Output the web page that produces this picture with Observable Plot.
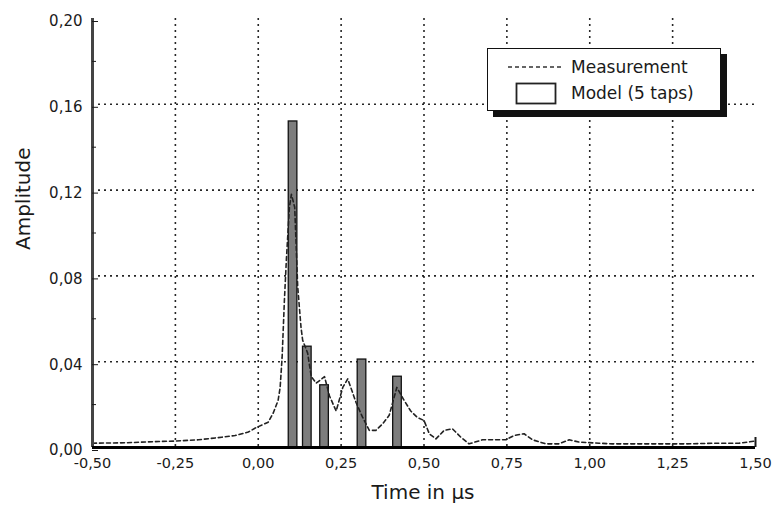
<!DOCTYPE html>
<html>
<head>
<meta charset="utf-8">
<script src="https://cdn.jsdelivr.net/npm/d3@7"></script>
<script src="https://cdn.jsdelivr.net/npm/@observablehq/plot@0.6"></script>
<style>
  html, body { margin: 0; padding: 0; background: #fff; }
  #wrap { position: relative; width: 772px; height: 513px; font-family: "DejaVu Sans", sans-serif; }
  #legend { position: absolute; left: 487px; top: 48px; width: 232px; height: 61px;
            border: 1.5px solid #111; background: #fff; box-shadow: 6px 6px 0 #111; }
</style>
</head>
<body>
<div id="wrap"></div>
<script>
// Measurement (dashed curve)
const measTime = [-0.50,-0.40,-0.30,-0.25,-0.18,-0.11,-0.07,-0.03,-0.01,0.03,0.045,0.06,0.066,0.072,0.079,0.085,0.094,0.100,0.110,0.119,0.129,0.134,0.149,0.160,0.175,0.200,0.215,0.235,0.255,0.270,0.295,0.315,0.335,0.355,0.375,0.395,0.418,0.440,0.460,0.480,0.500,0.516,0.536,0.561,0.586,0.611,0.636,0.677,0.717,0.747,0.772,0.802,0.827,0.867,0.907,0.938,0.968,1.028,1.068,1.128,1.209,1.289,1.380,1.450,1.500];
const measAmp  = [0.0020,0.0022,0.0028,0.0030,0.0036,0.0048,0.0056,0.0072,0.0090,0.0118,0.016,0.022,0.028,0.042,0.069,0.088,0.112,0.118,0.112,0.075,0.056,0.050,0.044,0.033,0.030,0.033,0.024,0.017,0.028,0.032,0.021,0.014,0.008,0.008,0.011,0.015,0.028,0.022,0.017,0.014,0.0126,0.0064,0.0040,0.0080,0.0087,0.0048,0.0017,0.0036,0.0036,0.0036,0.0056,0.0064,0.0036,0.0017,0.0017,0.0036,0.0025,0.0020,0.0017,0.0017,0.0017,0.0017,0.0020,0.0020,0.0030];
// Model (5 taps)
const tapTime = [0.105, 0.148, 0.200, 0.313, 0.420];
const tapAmp  = [0.152, 0.047, 0.029, 0.041, 0.033];
// Axes
const xDomain = [-0.5, 1.5];
const yDomain = [0, 0.2];
const xTicks = [-0.5,-0.25,0,0.25,0.5,0.75,1.0,1.25,1.5];
const yTicks = [0,0.04,0.08,0.12,0.16,0.20];
const yMinor = [0.02,0.06,0.10,0.14,0.18];
const xGrid = [-0.25,0,0.25,0.5,0.75,1.0,1.25];
const yGrid = [0.04,0.08,0.12,0.16];
const xLabel = "Time in µs";
const yLabel = "Amplitude";
const legendLabels = ["Measurement", "Model (5 taps)"];
const tapHalfWidth = 0.013;

const meas = measTime.map((t, i) => ({t, a: measAmp[i]}));
const taps = tapTime.map((t, i) => ({t, a: tapAmp[i]}));
const fmt = d => d.toFixed(2).replace(".", ",");

const chart = Plot.plot({
  width: 772, height: 513,
  marginLeft: 92, marginRight: 17, marginTop: 18, marginBottom: 66,
  x: {domain: xDomain},
  y: {domain: yDomain},
  style: {fontFamily: "'DejaVu Sans', sans-serif", fontSize: "15px", color: "#1a1a1a", background: "white"},
  marks: [
    Plot.gridX(xGrid, {stroke: "#000", strokeOpacity: 0.85, strokeWidth: 1.6, strokeDasharray: "2,4"}),
    Plot.gridY(yGrid, {stroke: "#000", strokeOpacity: 0.85, strokeWidth: 1.6, strokeDasharray: "2,4"}),
    Plot.rectY(taps, {x1: d => d.t - tapHalfWidth, x2: d => d.t + tapHalfWidth, y: "a", fill: "#7d7d7d", stroke: "#111", strokeWidth: 1.3}),
    Plot.line(meas, {x: "t", y: "a", stroke: "#222", strokeWidth: 1.6, strokeDasharray: "4,3"}),
    Plot.ruleX([xDomain[0]], {stroke: "#444", strokeWidth: 3}),
    Plot.ruleY([yDomain[0]], {stroke: "#000", strokeWidth: 3}),
    Plot.axisY(yTicks, {tickSize: -6, tickPadding: 16, dy: 3, tickFormat: fmt, label: null}),
    Plot.axisY(yMinor, {tickSize: -4, text: null, label: null}),
    Plot.axisX(xTicks, {tickSize: 0, tickPadding: 10, fontSize: 14.5, tickFormat: fmt, label: null}),
    Plot.axisX([xDomain[1]], {tickSize: -10, strokeWidth: 2, text: null, label: null}),
    Plot.text([xLabel], {frameAnchor: "bottom", dy: 51, dx: -1, fontSize: 20}),
    Plot.text([yLabel], {frameAnchor: "left", rotate: -90, dx: -69, dy: 17, fontSize: 20})
  ]
});
const wrap = document.getElementById("wrap");
wrap.appendChild(chart);

// Legend (HTML overlay)
const lg = document.createElement("div");
lg.id = "legend";
lg.innerHTML = `<svg width="232" height="61" style="position:absolute;left:0;top:0">
  <line x1="20" x2="75" y1="18" y2="18" stroke="#333" stroke-width="1.6" stroke-dasharray="4,3"/>
  <text x="83" y="18" dy="0.35em" font-family="DejaVu Sans" font-size="17" fill="#1a1a1a">${legendLabels[0]}</text>
  <rect x="28.5" y="34.5" width="39" height="20" fill="#fff" stroke="#222" stroke-width="1.8"/>
  <text x="83" y="44" dy="0.35em" font-family="DejaVu Sans" font-size="17" fill="#1a1a1a">${legendLabels[1]}</text>
</svg>`;
wrap.appendChild(lg);
</script>
</body>
</html>
